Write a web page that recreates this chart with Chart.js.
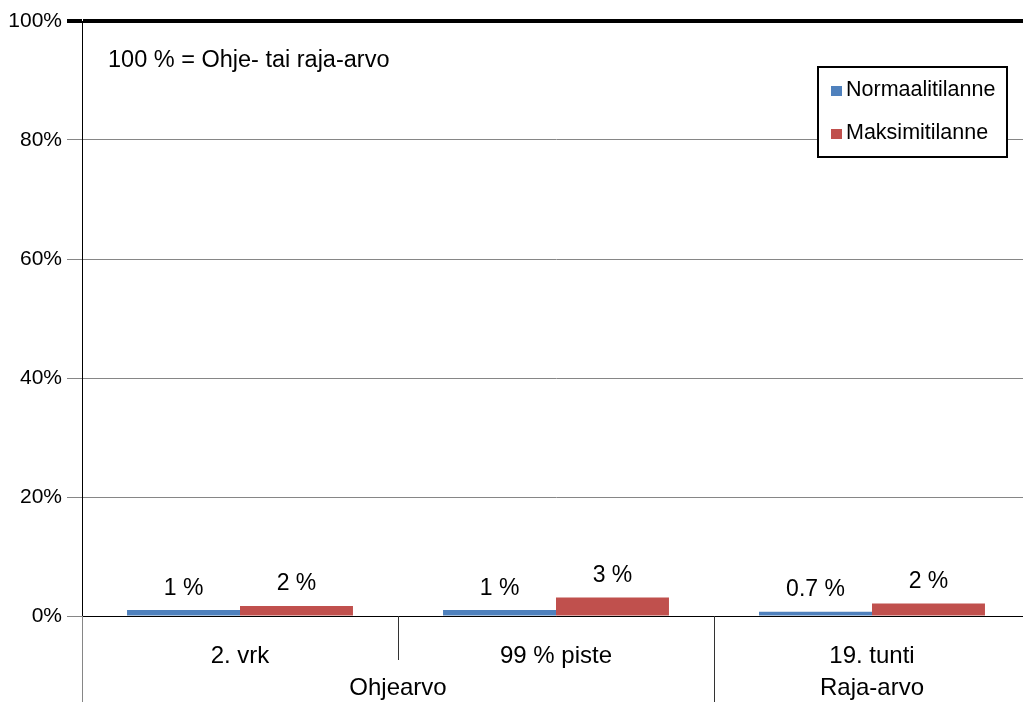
<!DOCTYPE html>
<html>
<head>
<meta charset="utf-8">
<script src="https://cdn.jsdelivr.net/npm/chart.js@4.4.1/dist/chart.umd.min.js"></script>
<style>
  html, body { margin: 0; padding: 0; overflow: hidden; background: #fff; }
  #wrap { position: absolute; left: 0; top: 0; width: 1031px; height: 702px; }
</style>
</head>
<body>
<div id="wrap"><canvas id="c"></canvas></div>
<script>
const categories = ["2. vrk", "99 % piste", "19. tunti"];
const groups = [
  { label: "Ohjearvo", from: 0, to: 1 },
  { label: "Raja-arvo", from: 2, to: 2 }
];
const seriesNames = ["Normaalitilanne", "Maksimitilanne"];
const normalValues = [1.0, 1.0, 0.7];
const maxValues = [1.7, 3.1, 2.1];
const normalLabels = ["1 %", "1 %", "0.7 %"];
const maxLabels = ["2 %", "3 %", "2 %"];
const yTicks = [0, 20, 40, 60, 80, 100];
const noteText = "100 % = Ohje- tai raja-arvo";

const FONT = "'Liberation Sans', Arial, sans-serif";
const BLUE = "#4F81BD";
const RED = "#C0504D";
const GRID = "#868686";

const dataLabels = [normalLabels, maxLabels];

const overlayPlugin = {
  id: "overlay",
  afterDatasetsDraw(chart) {
    const ctx = chart.ctx;
    const area = chart.chartArea;
    const x = chart.scales.x;
    ctx.save();
    // data labels
    ctx.fillStyle = "#000";
    ctx.font = "23px " + FONT;
    ctx.textAlign = "center";
    ctx.textBaseline = "alphabetic";
    chart.data.datasets.forEach((ds, di) => {
      const meta = chart.getDatasetMeta(di);
      meta.data.forEach((el, i) => {
        ctx.fillText(dataLabels[di][i], el.x, el.y - 15.5);
      });
    });
    // note
    ctx.textAlign = "left";
    ctx.font = "23.5px " + FONT;
    ctx.fillText(noteText, area.left + 26, area.top + 46);

    // category separators and group labels
    const half = (x.getPixelForValue(1) - x.getPixelForValue(0)) / 2;
    const bounds = [];
    for (let i = 0; i <= categories.length; i++) {
      bounds.push(i < categories.length ? x.getPixelForValue(i) - half : x.getPixelForValue(categories.length - 1) + half);
    }
    const groupEdges = new Set();
    groups.forEach(g => { groupEdges.add(g.from); groupEdges.add(g.to + 1); });
    for (let i = 0; i < bounds.length; i++) {
      const bx = Math.round(bounds[i]) + 0.5;
      ctx.beginPath();
      if (i === 0) {
        ctx.strokeStyle = GRID;
        ctx.moveTo(bx, area.bottom);
        ctx.lineTo(bx, chart.height);
      } else if (groupEdges.has(i)) {
        ctx.strokeStyle = "#333";
        ctx.moveTo(bx, area.bottom);
        ctx.lineTo(bx, chart.height);
      } else {
        ctx.strokeStyle = "#333";
        ctx.moveTo(bx, area.bottom);
        ctx.lineTo(bx, area.bottom + 44);
      }
      ctx.lineWidth = 1;
      ctx.stroke();
    }
    ctx.fillStyle = "#000";
    ctx.font = "24px " + FONT;
    ctx.textAlign = "center";
    groups.forEach(g => {
      const cx = (bounds[g.from] + bounds[g.to + 1]) / 2;
      ctx.fillText(g.label, cx, area.bottom + 79);
    });

    // legend
    const lx = area.right - 212, ly = area.top + 46, lw = 189, lh = 90;
    ctx.fillStyle = "#fff";
    ctx.fillRect(lx, ly, lw, lh);
    ctx.strokeStyle = "#000";
    ctx.lineWidth = 2;
    ctx.strokeRect(lx, ly, lw, lh);
    ctx.font = "21.5px " + FONT;
    ctx.textAlign = "left";
    chart.data.datasets.forEach((ds, di) => {
      const yy = ly + 19 + di * 43;
      ctx.fillStyle = ds.backgroundColor;
      ctx.fillRect(lx + 13, yy, 11, 10);
      ctx.fillStyle = "#000";
      ctx.fillText(ds.label, lx + 28, yy + 10);
    });
    ctx.restore();
  }
};

new Chart(document.getElementById("c"), {
  type: "bar",
  data: {
    labels: categories,
    datasets: [
      { label: seriesNames[0], data: normalValues, backgroundColor: BLUE },
      { label: seriesNames[1], data: maxValues, backgroundColor: RED }
    ]
  },
  options: {
    responsive: true,
    maintainAspectRatio: false,
    animation: false,
    devicePixelRatio: 1,
    layout: { padding: { top: 21, right: 1, left: 0, bottom: 0 } },
    plugins: { legend: { display: false }, tooltip: { enabled: false } },
    datasets: { bar: { categoryPercentage: 0.715, barPercentage: 1.0 } },
    scales: {
      x: {
        grid: { display: false },
        border: { display: true, color: "#000", width: 1 },
        ticks: { color: "#000", font: { family: FONT, size: 24 }, padding: 18, maxRotation: 0 },
        afterFit(s) { s.height = 86; }
      },
      y: {
        min: 0, max: 100,
        afterBuildTicks(s) { s.ticks = yTicks.map(v => ({ value: v })); },
        ticks: { color: "#000", font: { family: FONT, size: 21 }, padding: 5, callback: v => v + "%" },
        grid: {
          tickLength: 15,
          color: c => (c.tick && c.tick.value === 100) ? "#000" : (c.tick && c.tick.value === 0 ? "#000" : GRID),
          tickColor: c => (c.tick && c.tick.value === 100) ? "#000" : GRID,
          lineWidth: c => (c.tick && c.tick.value === 100) ? 4 : 1
        },
        border: { display: true, color: "#000", width: 1 },
        afterFit(s) { s.width = 82; }
      }
    }
  },
  plugins: [overlayPlugin]
});
</script>
</body>
</html>
